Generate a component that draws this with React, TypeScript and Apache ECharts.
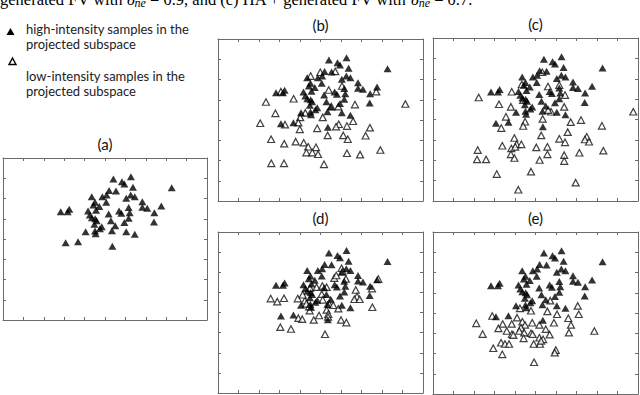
import React, { useEffect, useRef } from "react";
import * as echarts from "echarts";

// High-intensity samples (same set in every panel)
const HIGH: number[][] = [
  [6.27, 7.08], [5.41, 6.96], [5.83, 6.83], [5.95, 6.72], [6.37, 6.55], [8.27, 6.53],
  [5.54, 6.37], [5.2, 6.39], [5.08, 6.17], [6.26, 6.17], [6.46, 6.09], [6.04, 6.01],
  [4.35, 6.09], [4.87, 6.09], [5.06, 5.81], [4.51, 5.81], [4.43, 5.68], [4.72, 5.6],
  [6.83, 5.84], [6.83, 5.57], [7.07, 5.52], [7.76, 5.63], [6.16, 5.55], [4.56, 5.42],
  [4.17, 5.38], [3.25, 5.47], [3.17, 5.35], [2.83, 5.35], [5.69, 5.38], [5.8, 5.27],
  [5.18, 5.23], [6.21, 5.3], [7.42, 5.3], [4.26, 5.19], [4.36, 5.05], [4.52, 5.0],
  [4.59, 4.9], [5.29, 4.9], [5.95, 4.82], [6.16, 5.02], [7.4, 4.84], [4.48, 4.73],
  [5.5, 4.66], [4.84, 4.61], [4.75, 4.51], [5.34, 4.41], [4.05, 4.36], [4.51, 4.4],
  [4.54, 4.26], [6.04, 4.36], [6.46, 4.23], [3.07, 3.82], [3.68, 3.87], [5.36, 3.64],
];

// Low-intensity samples, panel (b)
const LOW_B: number[][] = [
  [4.52, 6.17], [4.99, 6.36], [5.72, 6.4], [6.05, 5.68], [5.4, 5.48], [3.07, 5.4],
  [7.72, 5.4], [3.69, 5.05], [2.34, 4.89], [6.68, 4.76], [9.14, 4.79], [5.87, 4.66],
  [5.53, 4.66], [2.8, 4.33], [4.26, 4.35], [4.01, 4.13], [5.11, 4.13], [3.92, 3.87],
  [2.06, 3.84], [3.27, 3.77], [5.89, 3.79], [6.29, 3.7], [5.76, 3.67], [6.59, 3.94],
  [7.41, 3.62], [3.99, 3.54], [4.84, 3.59], [5.35, 3.24], [6.11, 3.24], [6.33, 3.05],
  [7.2, 3.22], [2.59, 3.05], [3.23, 2.83], [3.79, 2.93], [4.18, 2.88], [4.4, 2.68],
  [4.78, 2.65], [4.31, 2.39], [4.6, 2.39], [4.88, 2.31], [7.92, 2.52], [6.29, 2.36],
  [6.93, 2.29], [2.6, 1.86], [3.22, 1.86], [5.17, 1.81],
];

// Low-intensity samples, panel (c)
const LOW_C: number[][] = [
  [2.23, 5.08], [3.22, 4.75], [3.84, 5.36], [4.33, 5.72], [5.33, 6.32], [5.61, 5.62],
  [6.16, 5.69], [6.44, 5.2], [4.4, 4.95], [3.8, 4.62], [5.76, 4.38], [5.62, 4.46],
  [6.4, 4.62], [3.56, 4.13], [4.49, 3.89], [3.33, 3.58], [4.4, 3.68], [5.35, 4.03],
  [6.72, 3.87], [7.22, 3.97], [8.24, 3.69], [9.77, 4.38], [6.57, 3.38], [5.28, 3.22],
  [3.97, 3.09], [6.16, 3.05], [6.44, 2.88], [7.5, 3.15], [7.41, 3.02], [7.61, 2.91],
  [3.38, 2.71], [4.08, 2.78], [4.31, 2.78], [3.82, 2.58], [4.01, 2.66], [5.04, 2.63],
  [5.58, 2.66], [2.18, 2.5], [8.31, 2.47], [7.14, 2.37], [3.8, 2.29], [3.97, 2.11],
  [5.58, 2.29], [6.4, 2.25], [2.15, 2.04], [2.59, 2.04], [5.2, 2.01], [6.4, 1.96],
  [3.11, 1.32], [4.78, 1.44], [6.96, 0.9], [4.16, 0.55],
];

// Low-intensity samples, panel (d)
const LOW_D: number[][] = [
  [2.57, 4.69], [2.89, 4.54], [3.22, 4.71], [3.89, 4.69], [4.24, 4.59], [4.31, 4.43],
  [4.44, 4.29], [4.13, 4.88], [4.49, 5.21], [4.81, 5.26], [5.09, 5.32], [5.3, 5.26],
  [5.67, 5.71], [5.77, 5.84], [6.03, 6.2], [6.08, 6.03], [6.24, 5.67], [7.82, 5.66],
  [7.51, 5.19], [6.72, 5.12], [6.78, 4.79], [6.65, 4.66], [6.91, 4.66], [7.53, 4.26],
  [5.06, 4.91], [5.11, 4.63], [5.43, 4.41], [5.62, 4.36], [5.87, 4.19], [5.3, 4.13],
  [5.38, 3.92], [5.37, 3.78], [4.93, 3.85], [4.67, 3.63], [4.47, 4.09], [3.92, 3.72],
  [4.11, 3.67], [6.0, 3.63], [6.26, 3.5], [3.04, 3.27], [3.56, 3.18], [5.22, 2.92],
];

// Low-intensity samples, panel (e)
const LOW_E: number[][] = [
  [4.24, 4.23], [4.78, 4.11], [5.72, 4.61], [7.06, 4.35], [7.11, 3.94], [6.05, 3.94],
  [5.58, 4.08], [2.89, 3.85], [4.1, 3.77], [2.11, 3.49], [3.4, 3.46], [3.84, 3.46],
  [4.36, 3.57], [4.49, 3.41], [4.84, 3.52], [5.19, 3.41], [5.9, 3.52], [6.6, 3.74],
  [6.73, 3.41], [3.19, 3.24], [3.6, 3.11], [4.29, 3.27], [4.21, 3.11], [4.45, 3.03],
  [4.78, 3.0], [4.86, 2.95], [5.5, 3.2], [5.69, 2.93], [6.63, 3.03], [7.87, 3.11],
  [2.42, 2.96], [3.85, 2.95], [3.92, 2.91], [4.42, 2.75], [5.19, 2.78], [5.37, 2.7],
  [3.32, 2.53], [3.51, 2.47], [3.71, 2.47], [4.91, 2.47], [5.22, 2.47], [5.27, 2.62],
  [2.94, 2.26], [3.38, 1.96], [5.99, 2.17], [5.94, 2.04], [4.93, 1.57],
];

const PANEL_LABELS = ["(a)", "(b)", "(c)", "(d)", "(e)"];
const PANEL_LOW: (number[][] | null)[] = [null, LOW_B, LOW_C, LOW_D, LOW_E];
const LEGEND_TEXT = [
  ["high-intensity samples in the", "projected subspace"],
  ["low-intensity samples in the", "projected subspace"],
];
const X_MAX = 10;
const Y_MAX = 8;

const GRIDS = [
  { left: 3, top: 158, width: 204, height: 162 },
  { left: 218, top: 39, width: 205, height: 162 },
  { left: 433, top: 38, width: 205, height: 163 },
  { left: 218, top: 232, width: 205, height: 161 },
  { left: 433, top: 232, width: 205, height: 162 },
];

const LINE_COLOR = "#6b6b6b";

export default function App() {
  const ref = useRef<HTMLDivElement>(null);
  useEffect(() => {
    if (!ref.current) return;
    const chart = echarts.init(ref.current, undefined, { renderer: "svg" });

    const xAxis: any[] = [];
    const yAxis: any[] = [];
    const series: any[] = [];
    const graphic: any[] = [];

    const axisBase = {
      type: "value",
      axisLine: { show: true, onZero: false, lineStyle: { color: LINE_COLOR, width: 1 } },
      axisTick: { show: true, inside: true, length: 3, lineStyle: { color: LINE_COLOR, width: 1 } },
      axisLabel: { show: false },
      splitLine: { show: false },
    };

    GRIDS.forEach((g, i) => {
      ["bottom", "top"].forEach((pos) =>
        xAxis.push({ ...axisBase, gridIndex: i, position: pos, min: 0, max: X_MAX, interval: 1 })
      );
      ["left", "right"].forEach((pos) =>
        yAxis.push({ ...axisBase, gridIndex: i, position: pos, min: 0, max: Y_MAX, interval: 1 })
      );
      const low = PANEL_LOW[i];
      if (low) {
        series.push({
          type: "scatter",
          xAxisIndex: i * 2,
          yAxisIndex: i * 2,
          data: low,
          symbol: "triangle",
          symbolSize: [7, 6.5],
          itemStyle: { color: "#ffffff", borderColor: "#111", borderWidth: 1.2 },
          silent: true,
        });
      }
      series.push({
        type: "scatter",
        xAxisIndex: i * 2,
        yAxisIndex: i * 2,
        data: HIGH,
        symbol: "triangle",
        symbolSize: [8, 7],
        itemStyle: { color: "#000000" },
        silent: true,
      });
      graphic.push({
        type: "text",
        x: g.left + g.width / 2,
        y: g.top - 14,
        style: {
          text: PANEL_LABELS[i],
          fontFamily: "Lato",
          fontSize: 15,
          fill: "#111",
          align: "center",
          verticalAlign: "middle",
        },
      });
    });

    // legend
    graphic.push({
      type: "polygon",
      shape: { points: [[10.5, 28], [6.5, 35], [14.5, 35]] },
      style: { fill: "#000" },
    });
    graphic.push({
      type: "polygon",
      shape: { points: [[12.5, 58], [9, 64.5], [16, 64.5]] },
      style: { fill: "#fff", stroke: "#000", lineWidth: 1.4 },
    });
    const legendY = [[29, 44], [75.5, 90.5]];
    LEGEND_TEXT.forEach((lines, k) =>
      lines.forEach((t, j) =>
        graphic.push({
          type: "text",
          x: 26,
          y: legendY[k][j],
          style: {
            text: t,
            fontFamily: "Lato",
            fontSize: 13,
            fill: "#222",
            align: "left",
            verticalAlign: "middle",
          },
        })
      )
    );

    // cut-off caption at top
    graphic.push({
      type: "text",
      x: 0,
      y: -1,
      style: {
        text:
          "generated FV with {d|δ}{s|ne} = 0.9, and (c) HA + generated FV with {d|δ}{s|ne} = 0.7.",
        fontFamily: "Liberation Serif",
        fontSize: 16.5,
        fill: "#000",
        align: "left",
        verticalAlign: "middle",
        rich: {
          d: { fontFamily: "Liberation Serif", fontStyle: "italic", fontSize: 16.5 },
          s: { fontFamily: "Liberation Serif", fontStyle: "italic", fontSize: 12, padding: [8, 0, 0, 0] },
        },
      },
    });

    chart.setOption({
      animation: false,
      backgroundColor: "#ffffff",
      grid: GRIDS.map((g) => ({ ...g, containLabel: false })),
      xAxis,
      yAxis,
      series,
      graphic,
    });
    return () => chart.dispose();
  }, []);

  return (
    <div
      ref={ref}
      style={{ position: "fixed", left: 0, top: 0, width: 640, height: 395, background: "#fff" }}
    />
  );
}
